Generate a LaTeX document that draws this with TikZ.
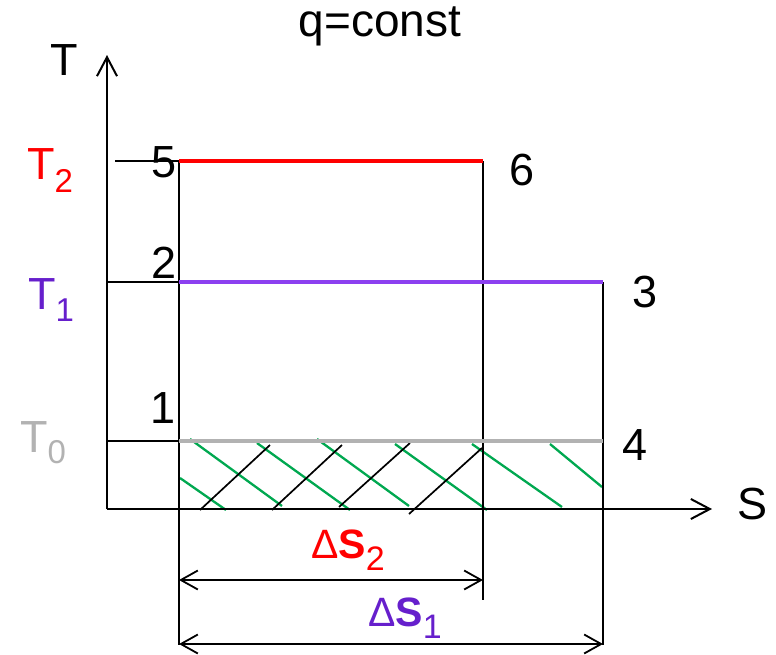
\documentclass[tikz,border=0pt]{standalone}
\usepackage{fontspec}
\setmainfont{Liberation Sans}
\usetikzlibrary{arrows.meta}
\definecolor{cred}{RGB}{255,0,0}
\definecolor{cpurpleline}{RGB}{140,64,240}
\definecolor{cpurple}{RGB}{102,31,204}
\definecolor{cgray}{RGB}{178,178,178}
\definecolor{cgreen}{RGB}{0,168,80}
\tikzset{
  axis/.style={line width=2pt,-{Straight Barb[length=19pt,width=20pt,line width=2pt]}},
  guide/.style={line width=1.5pt},
  level/.style={line width=3.5pt},
  hatchg/.style={line width=2.3pt,cgreen},
  hatchk/.style={line width=1.7pt,black},
  dim/.style={line width=1.8pt,{Straight Barb[length=17pt,width=19pt,line width=1.8pt]}-{Straight Barb[length=17pt,width=19pt,line width=1.8pt]}},
  lbl/.style={anchor=base west,inner sep=0pt,font=\fontsize{45}{45}\selectfont},
  num/.style={anchor=base west,inner sep=0pt,font=\fontsize{45}{45}\selectfont},
  dlbl/.style={anchor=base west,inner sep=0pt,font=\fontsize{41}{41}\selectfont\bfseries}
}
\newcommand{\subs}[2]{\raisebox{#1}{\fontsize{33}{33}\selectfont #2}}
\newcommand{\dsub}[1]{\raisebox{-12pt}{\fontsize{34}{34}\selectfont\mdseries #1}}
\begin{document}
\begin{tikzpicture}[x=1pt,y=-1pt]
\useasboundingbox (0,0) rectangle (776,654);
% key points
\coordinate (O) at (107,509);
\coordinate (Ttip) at (107,55);
\coordinate (Stip) at (712,509);
\coordinate (p5) at (179,161);
\coordinate (p6) at (483,161);
\coordinate (p2) at (179,282);
\coordinate (p3) at (603,282);
\coordinate (p1) at (179,441);
\coordinate (p4) at (603,441);
\coordinate (t5) at (115,161);
\coordinate (a2) at (107,282);
\coordinate (a1) at (107,441);
\coordinate (b1) at (179,645);
\coordinate (b6) at (483,600);
\coordinate (b3) at (603,645);
\coordinate (d2l) at (179,580);
\coordinate (d2r) at (483,580);
\coordinate (d1l) at (179,644);
\coordinate (d1r) at (603,644);
% hatching
\draw[hatchg] (180,478) -- (226,510);
\draw[hatchg] (190,439) -- (282,506);
\draw[hatchg] (257,443) -- (350,510);
\draw[hatchg] (317,439) -- (409,506);
\draw[hatchg] (395,444) -- (487,510);
\draw[hatchg] (472,444) -- (562,507);
\draw[hatchg] (550,444) -- (602,487);
\draw[hatchk] (200,510) -- (270,445);
\draw[hatchk] (272,510) -- (342,445);
\draw[hatchk] (339,507) -- (410,443);
\draw[hatchk] (409,514) -- (482,448);
% guides
\draw[guide] (p5) -- (b1);
\draw[guide] (p6) -- (b6);
\draw[guide] (p3) -- (b3);
\draw[guide] (t5) -- (p5);
\draw[guide] (a2) -- (p2);
\draw[guide] (a1) -- (p1);
% levels
\draw[level,cred] (p5) -- (p6);
\draw[level,cpurpleline] (p2) -- (p3);
\draw[level,cgray] (p1) -- (p4);
% axes
\draw[axis] (O) -- (Ttip);
\draw[axis] (O) -- (Stip);
% dimension arrows
\draw[dim] (d2l) -- (d2r);
\draw[dim] (d1l) -- (d1r);
% labels
\node[anchor=base,inner sep=0pt,font=\fontsize{46}{46}\selectfont] (title) at (380,36) {q=const};
\node[lbl] (Tlab) at (50,75) {T};
\node[lbl] (Slab) at (737,519) {S};
\node[lbl,text=cred] (T2) at (27,179) {T\subs{-13pt}{2}};
\node[lbl,text=cpurple] (T1) at (28,309) {T\subs{-12pt}{1}};
\node[lbl,text=cgray] (T0) at (20,452) {T\subs{-11pt}{0}};
\node[num,anchor=base east] (n5) at (177,177) {5};
\node[num,anchor=base east] (n2) at (177,278) {2};
\node[num,anchor=base east] (n1) at (176,423) {1};
\node[num] (n6) at (509,185) {6};
\node[num] (n3) at (632,307) {3};
\node[num] (n4) at (622,460) {4};
\node[dlbl,text=cred] (dS2) at (311,558) {{\mdseries Δ}S\dsub{2}};
\node[dlbl,text=cpurple] (dS1) at (368,626) {{\mdseries Δ}S\dsub{1}};
\end{tikzpicture}
\end{document}
